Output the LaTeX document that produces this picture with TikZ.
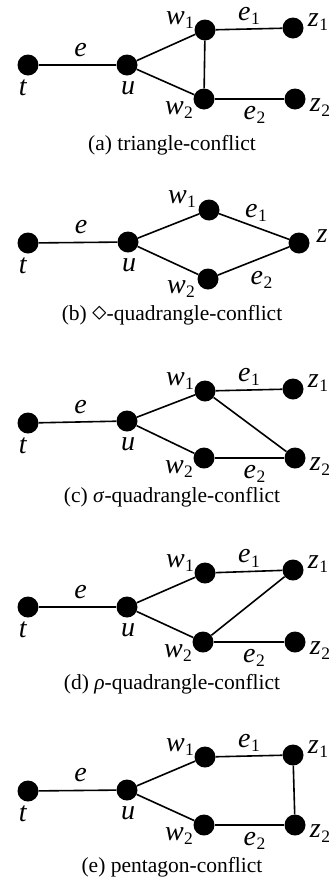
\documentclass[tikz,border=0pt]{standalone}
\usepackage{fontspec}
\usepackage{graphicx}
\setmainfont{Liberation Serif}
\tikzset{
  vtx/.style={circle,fill=black,minimum size=21pt,inner sep=0pt},
  conn/.style={line width=1.6pt},
  lab/.style={inner sep=0pt,font=\fontsize{28}{31}\selectfont},
  captxt/.style={inner sep=0pt,font=\fontsize{21.5}{25}\selectfont}
}
\newcommand\iv[1]{\textit{#1}}
\newcommand\ivs[2]{\textit{#1}\kern0.5pt\raisebox{-0.16em}{\fontsize{17.5}{20}\selectfont #2}}
\begin{document}
\begin{tikzpicture}[x=1pt,y=-1pt]
\useasboundingbox (0,0) rectangle (331,884);
% ---------- (a)
\node[vtx] (at) at (28,65) {};
\node[vtx] (au) at (127,65) {};
\node[vtx] (aw1) at (205,30) {};
\node[vtx] (aw2) at (204,99) {};
\node[vtx] (az1) at (293,28) {};
\node[vtx] (az2) at (295,99) {};
\draw[conn] (at) -- node[lab,xshift=3pt,yshift=15pt] {\iv{e}} (au);
\draw[conn] (au) -- (aw1);
\draw[conn] (au) -- (aw2);
\draw[conn] (aw1) -- (aw2);
\draw[conn] (aw1) -- node[lab,xshift=0pt,yshift=13pt] {\ivs{e}{1}} (az1);
\draw[conn] (aw2) -- node[lab,xshift=5pt,yshift=-16pt] {\ivs{e}{2}} (az2);
\node[lab] (ltat) at ([shift={(-5,23)}]at.center) {\iv{t}};
\node[lab] (ltau) at ([shift={(1,23)}]au.center) {\iv{u}};
\node[lab] (ltaw1) at ([shift={(-25,-10)}]aw1.center) {\ivs{w}{1}};
\node[lab] (ltaw2) at ([shift={(-25,11)}]aw2.center) {\ivs{w}{2}};
\node[lab] (ltaz1) at ([shift={(25,-6)}]az1.center) {\ivs{z}{1}};
\node[lab] (ltaz2) at ([shift={(25,8.5)}]az2.center) {\ivs{z}{2}};
\node[captxt] (capa) at (172,145) {(a) triangle-conflict};
% ---------- (b)
\node[vtx] (bt) at (28,243) {};
\node[vtx] (bu) at (128,242) {};
\node[vtx] (bw1) at (209,210) {};
\node[vtx] (bw2) at (208,279) {};
\node[vtx] (bz) at (299,243) {};
\draw[conn] (bt) -- node[lab,xshift=3pt,yshift=15pt] {\iv{e}} (bu);
\draw[conn] (bu) -- (bw1);
\draw[conn] (bu) -- (bw2);
\draw[conn] (bw1) -- node[lab,xshift=2pt,yshift=13.5pt] {\ivs{e}{1}} (bz);
\draw[conn] (bw2) -- node[lab,xshift=8pt,yshift=-19pt] {\ivs{e}{2}} (bz);
\node[lab] (ltbt) at ([shift={(-5,23)}]bt.center) {\iv{t}};
\node[lab] (ltbu) at ([shift={(1,23)}]bu.center) {\iv{u}};
\node[lab] (ltbw1) at ([shift={(-27,-11)}]bw1.center) {\ivs{w}{1}};
\node[lab] (ltbw2) at ([shift={(-27,10)}]bw2.center) {\ivs{w}{2}};
\node[lab] (ltbz) at ([shift={(23,-7)}]bz.center) {\iv{z}};
\node[captxt] (capb) at (172,315) {(b) \raisebox{-0.03em}{\scalebox{1.4}{$\diamond$}}-quadrangle-conflict};
% ---------- (c)
\node[vtx] (ct) at (28,423) {};
\node[vtx] (cu) at (127,421) {};
\node[vtx] (cw1) at (205,391) {};
\node[vtx] (cw2) at (204,458) {};
\node[vtx] (cz1) at (293,389) {};
\node[vtx] (cz2) at (295,458) {};
\draw[conn] (ct) -- node[lab,xshift=3pt,yshift=15pt] {\iv{e}} (cu);
\draw[conn] (cu) -- (cw1);
\draw[conn] (cu) -- (cw2);
\draw[conn] (cw1) -- (cz2);
\draw[conn] (cw1) -- node[lab,xshift=0pt,yshift=13pt] {\ivs{e}{1}} (cz1);
\draw[conn] (cw2) -- node[lab,xshift=5pt,yshift=-16pt] {\ivs{e}{2}} (cz2);
\node[lab] (ltct) at ([shift={(-5,23)}]ct.center) {\iv{t}};
\node[lab] (ltcu) at ([shift={(1,23)}]cu.center) {\iv{u}};
\node[lab] (ltcw1) at ([shift={(-25,-10)}]cw1.center) {\ivs{w}{1}};
\node[lab] (ltcw2) at ([shift={(-25,11)}]cw2.center) {\ivs{w}{2}};
\node[lab] (ltcz1) at ([shift={(25,-6)}]cz1.center) {\ivs{z}{1}};
\node[lab] (ltcz2) at ([shift={(25,8.5)}]cz2.center) {\ivs{z}{2}};
\node[captxt] (capc) at (172,497) {(c) \textit{σ}-quadrangle-conflict};
% ---------- (d)
\node[vtx] (dt) at (28,607) {};
\node[vtx] (du) at (127,607) {};
\node[vtx] (dw1) at (205,573) {};
\node[vtx] (dw2) at (203,642) {};
\node[vtx] (dz1) at (293,570) {};
\node[vtx] (dz2) at (295,642) {};
\draw[conn] (dt) -- node[lab,xshift=3pt,yshift=15pt] {\iv{e}} (du);
\draw[conn] (du) -- (dw1);
\draw[conn] (du) -- (dw2);
\draw[conn] (dw2) -- (dz1);
\draw[conn] (dw1) -- node[lab,xshift=0pt,yshift=13pt] {\ivs{e}{1}} (dz1);
\draw[conn] (dw2) -- node[lab,xshift=5pt,yshift=-16pt] {\ivs{e}{2}} (dz2);
\node[lab] (ltdt) at ([shift={(-5,23)}]dt.center) {\iv{t}};
\node[lab] (ltdu) at ([shift={(1,23)}]du.center) {\iv{u}};
\node[lab] (ltdw1) at ([shift={(-25,-10)}]dw1.center) {\ivs{w}{1}};
\node[lab] (ltdw2) at ([shift={(-25,11)}]dw2.center) {\ivs{w}{2}};
\node[lab] (ltdz1) at ([shift={(25,-6)}]dz1.center) {\ivs{z}{1}};
\node[lab] (ltdz2) at ([shift={(25,8.5)}]dz2.center) {\ivs{z}{2}};
\node[captxt] (capd) at (172,684) {(d) \textit{ρ}-quadrangle-conflict};
% ---------- (e)
\node[vtx] (et) at (28,791) {};
\node[vtx] (eu) at (127,790) {};
\node[vtx] (ew1) at (205,757) {};
\node[vtx] (ew2) at (204,825) {};
\node[vtx] (ez1) at (293,755) {};
\node[vtx] (ez2) at (295,825) {};
\draw[conn] (et) -- node[lab,xshift=3pt,yshift=15pt] {\iv{e}} (eu);
\draw[conn] (eu) -- (ew1);
\draw[conn] (eu) -- (ew2);
\draw[conn] (ez1) -- (ez2);
\draw[conn] (ew1) -- node[lab,xshift=0pt,yshift=13pt] {\ivs{e}{1}} (ez1);
\draw[conn] (ew2) -- node[lab,xshift=5pt,yshift=-16pt] {\ivs{e}{2}} (ez2);
\node[lab] (ltet) at ([shift={(-5,23)}]et.center) {\iv{t}};
\node[lab] (lteu) at ([shift={(1,23)}]eu.center) {\iv{u}};
\node[lab] (ltew1) at ([shift={(-25,-10)}]ew1.center) {\ivs{w}{1}};
\node[lab] (ltew2) at ([shift={(-25,11)}]ew2.center) {\ivs{w}{2}};
\node[lab] (ltez1) at ([shift={(25,-6)}]ez1.center) {\ivs{z}{1}};
\node[lab] (ltez2) at ([shift={(25,8.5)}]ez2.center) {\ivs{z}{2}};
\node[captxt] (cape) at (172,867) {(e) pentagon-conflict};
\end{tikzpicture}
\end{document}
